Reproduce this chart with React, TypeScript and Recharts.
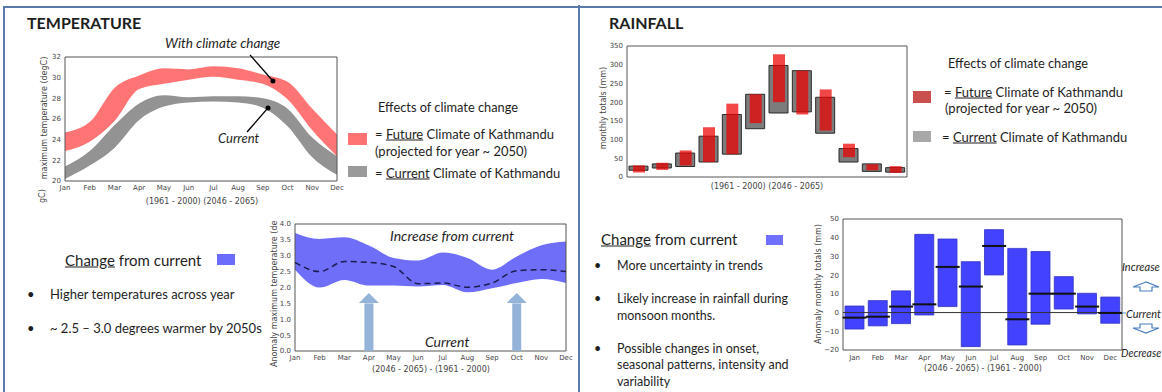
import React from 'react'
import {
  ComposedChart,
  Area,
  Line,
  Bar,
  Scatter,
  XAxis,
  YAxis,
  ReferenceArea,
  ReferenceLine,
  ReferenceDot,
} from 'recharts'

const months = ['Jan', 'Feb', 'Mar', 'Apr', 'May', 'Jun', 'Jul', 'Aug', 'Sep', 'Oct', 'Nov', 'Dec']
const monthIdx = [1, 2, 3, 4, 5, 6, 7, 8, 9, 10, 11, 12]

// max temperature envelope (degC), 1961-2000 and 2046-2065
const tempCurLow = [20.2, 21.5, 23.2, 25.9, 27.2, 27.6, 27.7, 27.6, 27.1, 25.3, 22.3, 20.6]
const tempCurHigh = [21.4, 22.9, 25.4, 27.5, 28.3, 28.1, 28.2, 28.2, 28.0, 27.0, 24.2, 22.4]
const tempFutLow = [22.9, 23.8, 25.8, 28.9, 29.4, 29.8, 30.1, 29.8, 29.4, 27.9, 24.9, 22.4]
const tempFutHigh = [24.7, 25.7, 29.0, 30.2, 30.9, 30.8, 31.1, 30.9, 30.3, 29.6, 27.0, 24.5]
const tempTicks = [20, 22, 24, 26, 28, 30, 32]

// anomaly of max temperature (degC)
const anomLow = [2.56, 2.0, 2.24, 2.06, 2.06, 2.03, 2.08, 1.85, 1.98, 2.14, 2.27, 2.14]
const anomHigh = [3.72, 3.53, 3.58, 3.32, 2.93, 2.85, 3.1, 2.93, 2.56, 2.98, 3.33, 3.45]
const anomMean = [2.79, 2.5, 2.82, 2.79, 2.66, 2.12, 2.14, 2.01, 2.14, 2.53, 2.56, 2.5]
const anomTicks = [0, 0.5, 1, 1.5, 2, 2.5, 3, 3.5, 4]

// monthly rainfall totals (mm)
const rainCurLow = [18, 24, 28, 40, 61, 129, 171, 174, 117, 40, 15, 13]
const rainCurHigh = [29, 35, 64, 109, 167, 221, 298, 284, 213, 76, 35, 25]
const rainFutLow = [12, 19, 31, 40, 61, 144, 200, 167, 124, 53, 18, 11]
const rainFutHigh = [31, 38, 71, 133, 196, 221, 328, 284, 234, 89, 34, 29]
const rainTicks = [0, 50, 100, 150, 200, 250, 300, 350]

// rainfall anomaly (mm)
const rainAnomLow = [-8.8, -7.1, -5.9, -1.3, 3.2, -18.2, 20.1, -17.3, -6.2, 1.9, -0.7, -5.7]
const rainAnomHigh = [3.5, 6.4, 11.6, 41.8, 39.3, 27.2, 44.3, 34.3, 32.6, 19.2, 10.3, 8.3]
const rainAnomMean = [-2.7, -2.2, 3.2, 4.4, 24.4, 13.9, 35.6, -3.6, 10.1, 10.1, 3.2, -0.2]
const rainAnomTicks = [-20, -10, 0, 10, 20, 30, 40, 50]

const tempRows = monthIdx.map((m, i) => ({
  m,
  cur: [tempCurLow[i], tempCurHigh[i]],
  fut: [tempFutLow[i], tempFutHigh[i]],
}))
const anomRows = monthIdx.map((m, i) => ({
  m,
  band: [anomLow[i], anomHigh[i]],
  mean: anomMean[i],
}))
const rainRows = months.map((month, i) => ({
  month,
  cur: [rainCurLow[i], rainCurHigh[i]],
  fut: [rainFutLow[i], rainFutHigh[i]],
}))
const rainAnomRows = months.map((month, i) => ({
  month,
  range: [rainAnomLow[i], rainAnomHigh[i]],
  mean: rainAnomMean[i],
}))

const sans = 'Lato, "Noto Sans", sans-serif'
const mpl = '"DejaVu Sans", sans-serif'
const tick = { fontSize: 7, fill: '#444', fontFamily: mpl }
const frame = '#555'
const border = '#5a7aab'
const arrowBlue = '#93b3d9'

function Txt({ x, y, size = 13, italic = false, bold = false, center = false, color = '#1e1e1e', children }: any) {
  return (
    <div
      style={{
        position: 'absolute',
        left: x,
        top: y,
        transform: center ? 'translate(-50%, -50%)' : 'translateY(-50%)',
        fontFamily: sans,
        fontSize: size,
        fontStyle: italic ? 'italic' : 'normal',
        fontWeight: bold ? 700 : 400,
        color,
        whiteSpace: 'nowrap',
        lineHeight: 1,
      }}
    >
      {children}
    </div>
  )
}

function Caption({ x, y, children }: any) {
  return (
    <div
      style={{
        position: 'absolute',
        left: x,
        top: y,
        transform: 'translate(-50%, -50%)',
        fontFamily: mpl,
        fontSize: 8,
        color: '#444',
        whiteSpace: 'nowrap',
        lineHeight: 1,
      }}
    >
      {children}
    </div>
  )
}

// rotated axis title; (x, y) is its centre
function VLabel({ x, y, children }: any) {
  return (
    <div
      style={{
        position: 'absolute',
        left: x,
        top: y,
        transform: 'translate(-50%, -50%) rotate(-90deg)',
        fontFamily: mpl,
        fontSize: 8,
        color: '#444',
        whiteSpace: 'nowrap',
        lineHeight: 1,
      }}
    >
      {children}
    </div>
  )
}

// rotated text that reads upwards from (x, y)
function UpText({ x, y, children }: any) {
  return (
    <div
      style={{
        position: 'absolute',
        left: x,
        top: y,
        transform: 'rotate(-90deg)',
        transformOrigin: '0 0',
        fontFamily: mpl,
        fontSize: 8,
        color: '#444',
        lineHeight: 1,
        whiteSpace: 'nowrap',
      }}
    >
      {children}
    </div>
  )
}

function Swatch({ x, y, w, h, color }: any) {
  return <div style={{ position: 'absolute', left: x, top: y, width: w, height: h, background: color }} />
}

function Bullet({ x, tx, y, size, children }: any) {
  return (
    <>
      <Txt x={x} y={y} size={size}>•</Txt>
      <Txt x={tx} y={y} size={size}>{children}</Txt>
    </>
  )
}

const UpHead = (props: any) => {
  const { cx, cy } = props
  return <polygon points={`${cx},${cy} ${cx - 10},${cy + 10} ${cx + 10},${cy + 10}`} fill={arrowBlue} />
}

const MeanTick = (props: any) => {
  const { cx, cy } = props
  return <line x1={cx - 12} x2={cx + 12} y1={cy} y2={cy} stroke="#111" strokeWidth={2} />
}

function TempChart() {
  return (
    <div style={{ position: 'absolute', left: 0, top: 0 }}>
      <ComposedChart width={360} height={215} data={tempRows} margin={{ top: 57, right: 23, left: 0, bottom: 0 }}>
        <XAxis
          dataKey="m"
          type="number"
          domain={[1, 12]}
          ticks={monthIdx}
          tickFormatter={(v: number) => months[v - 1]}
          height={34}
          tick={tick}
          tickSize={2}
          tickMargin={2}
          axisLine={false}
          tickLine={false}
        />
        <YAxis domain={[20, 32]} ticks={tempTicks} width={65} tick={tick} tickSize={2} tickMargin={2} axisLine={false} tickLine={false} />
        <Area dataKey="fut" type="monotone" fill="#ff6d6d" fillOpacity={0.95} stroke="none" isAnimationActive={false} />
        <Area dataKey="cur" type="monotone" fill="#939393" fillOpacity={1} stroke="none" isAnimationActive={false} />
        <ReferenceArea x1={1} x2={12} y1={20} y2={32} fill="none" stroke={frame} strokeWidth={1} />
        <ReferenceLine segment={[{ x: 8.48, y: 32.2 }, { x: 9.41, y: 29.68 }]} stroke="#000" strokeWidth={1.3} ifOverflow="visible" />
        <ReferenceDot x={9.41} y={29.68} r={2.5} fill="#000" stroke="none" ifOverflow="visible" />
        <ReferenceLine segment={[{ x: 8.36, y: 24.74 }, { x: 9.21, y: 27.07 }]} stroke="#000" strokeWidth={1.3} ifOverflow="visible" />
        <ReferenceDot x={9.21} y={27.07} r={2.5} fill="#000" stroke="none" ifOverflow="visible" />
      </ComposedChart>
    </div>
  )
}

function TempAnomalyChart() {
  return (
    <div style={{ position: 'absolute', left: 260, top: 210 }}>
      <ComposedChart width={320} height={182} data={anomRows} margin={{ top: 14, right: 14, left: 0, bottom: 0 }}>
        <XAxis
          dataKey="m"
          type="number"
          domain={[1, 12]}
          ticks={monthIdx}
          tickFormatter={(v: number) => months[v - 1]}
          height={41}
          tick={tick}
          tickSize={2}
          tickMargin={2}
          axisLine={false}
          tickLine={false}
        />
        <YAxis
          domain={[0, 4]}
          ticks={anomTicks}
          tickFormatter={(v: number) => v.toFixed(1)}
          width={35}
          tick={tick}
          tickSize={2}
          tickMargin={2}
          axisLine={false}
          tickLine={false}
        />
        <Area dataKey="band" type="monotone" fill="#6e6ef8" fillOpacity={1} stroke="none" isAnimationActive={false} />
        <Line dataKey="mean" type="monotone" stroke="#1c1c50" strokeWidth={1.5} strokeDasharray="6 4" dot={false} isAnimationActive={false} />
        <ReferenceLine segment={[{ x: 4, y: 0 }, { x: 4, y: 1.5 }]} stroke={arrowBlue} strokeWidth={9} />
        <ReferenceDot x={4} y={1.83} shape={UpHead} />
        <ReferenceLine segment={[{ x: 10, y: 0 }, { x: 10, y: 1.5 }]} stroke={arrowBlue} strokeWidth={9} />
        <ReferenceDot x={10} y={1.83} shape={UpHead} />
        <ReferenceArea x1={1} x2={12} y1={0} y2={4} fill="none" stroke={frame} strokeWidth={1} />
      </ComposedChart>
    </div>
  )
}

function RainChart() {
  return (
    <div style={{ position: 'absolute', left: 590, top: 30 }}>
      <ComposedChart width={330} height={170} data={rainRows} margin={{ top: 16, right: 13, left: 0, bottom: 0 }}>
        <XAxis xAxisId="cur" dataKey="month" tick={false} height={23} axisLine={false} tickLine={false} />
        <XAxis xAxisId="fut" dataKey="month" hide />
        <YAxis domain={[0, 350]} ticks={rainTicks} width={37} tick={tick} tickSize={2} tickMargin={2} axisLine={false} tickLine={false} />
        <Bar xAxisId="cur" dataKey="cur" barSize={19} fill="#505050" fillOpacity={0.75} stroke="#2a2a2a" strokeWidth={1} isAnimationActive={false} />
        <Bar xAxisId="fut" dataKey="fut" barSize={12} fill="#eb0000" fillOpacity={0.72} isAnimationActive={false} />
        <ReferenceArea xAxisId="cur" y1={0} y2={350} fill="none" stroke={frame} strokeWidth={1} />
      </ComposedChart>
    </div>
  )
}

function RainAnomalyChart() {
  return (
    <div style={{ position: 'absolute', left: 800, top: 205 }}>
      <ComposedChart width={340} height={187} data={rainAnomRows} margin={{ top: 14, right: 18, left: 0, bottom: 0 }}>
        <XAxis dataKey="month" height={42} tick={tick} tickSize={2} tickMargin={3} axisLine={false} tickLine={false} />
        <YAxis
          domain={[-20, 50]}
          ticks={rainAnomTicks}
          tickFormatter={(v: number) => (v < 0 ? `\u2212${Math.abs(v)}` : `${v}`)}
          width={43}
          tick={tick}
          tickSize={2}
          tickMargin={2}
          axisLine={false}
          tickLine={false}
        />
        <Bar dataKey="range" barSize={19} fill="#4242ff" stroke="#3434c4" strokeWidth={0.8} isAnimationActive={false} />
        <ReferenceLine y={0} stroke="#333" strokeWidth={1} />
        <Scatter dataKey="mean" shape={MeanTick} isAnimationActive={false} />
        <ReferenceArea y1={-20} y2={50} fill="none" stroke={frame} strokeWidth={1} />
      </ComposedChart>
    </div>
  )
}

export default function App() {
  return (
    <div
      style={{
        position: 'fixed',
        left: 0,
        top: 0,
        width: 1162,
        height: 392,
        background: '#fff',
        overflow: 'hidden',
      }}
    >
      {/* panel borders */}
      <div style={{ position: 'absolute', left: 3, top: 6, width: 1159, height: 2, background: border }} />
      <div style={{ position: 'absolute', left: 3, top: 6, width: 2, height: 386, background: border }} />
      <div style={{ position: 'absolute', left: 578, top: 5, width: 2, height: 387, background: border }} />

      {/* temperature panel */}
      <Txt x={27} y={23} size={16} bold>TEMPERATURE</Txt>
      <TempChart />
      <Txt x={165} y={44} size={13.5} italic>With climate change</Txt>
      <Txt x={218} y={138} size={13} italic>Current</Txt>
      <VLabel x={45} y={118}>maximum temperature (degC)</VLabel>
      <Caption x={202} y={202}>(1961 - 2000) (2046 - 2065)</Caption>
      <UpText x={39} y={203}>gC)</UpText>

      <Txt x={378} y={107} size={12.8}>Effects of climate change</Txt>
      <Swatch x={348} y={133} w={19} h={12} color="#ff7373" />
      <Txt x={375} y={134} size={13}>= <u>Future</u> Climate of Kathmandu</Txt>
      <Txt x={375} y={151} size={13}>(projected for year ~ 2050)</Txt>
      <Swatch x={348} y={166} w={19} h={11} color="#9a9a9a" />
      <Txt x={375} y={173} size={13}>= <u>Current</u> Climate of Kathmandu</Txt>

      <Txt x={65} y={260} size={15}><u>Change</u> from current</Txt>
      <Swatch x={217} y={254} w={18} h={11} color="#6b6bfc" />
      <Bullet x={27} tx={50} y={294} size={13}>Higher temperatures across year</Bullet>
      <Bullet x={27} tx={50} y={328} size={13}>~ 2.5 – 3.0 degrees warmer by 2050s</Bullet>

      <TempAnomalyChart />
      <UpText x={271} y={367}>Anomaly maximum temperature (de</UpText>
      <Txt x={390} y={236} size={14} italic>Increase from current</Txt>
      <Txt x={425} y={342} size={14} italic>Current</Txt>
      <Caption x={431} y={370}>(2046 - 2065) - (1961 - 2000)</Caption>

      {/* rainfall panel */}
      <Txt x={609} y={23} size={16} bold>RAINFALL</Txt>
      <RainChart />
      <VLabel x={604} y={108}>monthly totals (mm)</VLabel>
      <Caption x={767} y={187}>(1961 - 2000) (2046 - 2065)</Caption>

      <Txt x={948} y={63} size={12.8}>Effects of climate change</Txt>
      <Swatch x={913} y={91} w={18} h={12} color="#c9504d" />
      <Txt x={944} y={92} size={13}>= <u>Future</u> Climate of Kathmandu</Txt>
      <Txt x={945} y={108} size={13}>(projected for year ~ 2050)</Txt>
      <Swatch x={913} y={131} w={18} h={11} color="#a8a8a8" />
      <Txt x={942} y={137} size={13}>= <u>Current</u> Climate of Kathmandu</Txt>

      <Txt x={601} y={239} size={15}><u>Change</u> from current</Txt>
      <Swatch x={766} y={235} w={17} h={10} color="#7070ff" />
      <Bullet x={594} tx={617} y={266} size={12.5}>More uncertainty in trends</Bullet>
      <Bullet x={594} tx={617} y={299} size={12.5}>Likely increase in rainfall during</Bullet>
      <Txt x={617} y={316} size={12.5}>monsoon months.</Txt>
      <Bullet x={594} tx={617} y={349} size={12.5}>Possible changes in onset,</Bullet>
      <Txt x={617} y={365} size={12.5}>seasonal patterns, intensity and</Txt>
      <Txt x={617} y={382} size={12.5}>variability</Txt>

      <RainAnomalyChart />
      <VLabel x={819} y={284}>Anomaly monthly totals (mm)</VLabel>
      <Caption x={983} y={369}>(2046 - 2065) - (1961 - 2000)</Caption>

      <Txt x={1122} y={266} size={11} italic>Increase</Txt>
      <Txt x={1126} y={313} size={11} italic>Current</Txt>
      <Txt x={1121} y={353} size={10.5} italic>Decrease</Txt>
      <svg style={{ position: 'absolute', left: 1120, top: 275 }} width={42} height={65}>
        <line x1={2} x2={6} y1={38} y2={38} stroke="#6a9fd8" strokeWidth={1.2} />
        <polygon points="26,7 13,12 20,12 20,16 32,16 32,12 39,12" fill="#fff" stroke="#4a7ebb" strokeWidth={1.2} />
        <polygon points="20,49 32,49 32,53 39,53 26,58 13,53 20,53" fill="#fff" stroke="#4a7ebb" strokeWidth={1.2} />
      </svg>
    </div>
  )
}
